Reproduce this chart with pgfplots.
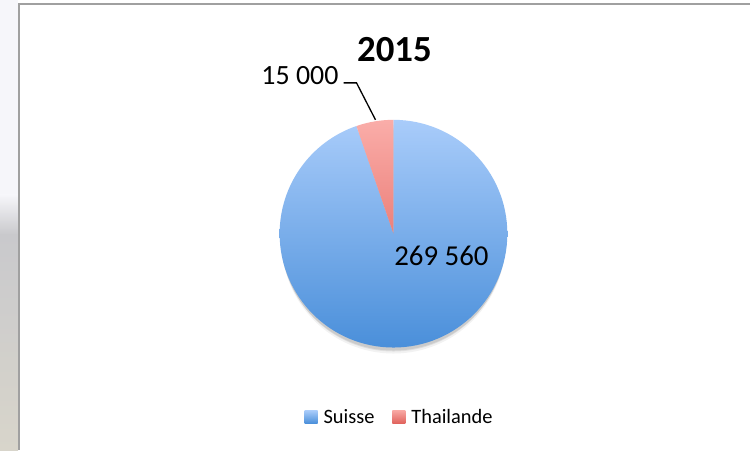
\documentclass[border=0pt]{standalone}
\usepackage{pgfplots}
\pgfplotsset{compat=1.18}
\usepackage{pgfplotstable}
\usepackage{fontspec}
\setmainfont{Carlito}
\definecolor{blueTop}{HTML}{A9CCFA}
\definecolor{blueBot}{HTML}{4A8FDA}
\definecolor{redTop}{HTML}{FAADA9}
\definecolor{redBot}{HTML}{EC807A}
\definecolor{legRedTop}{HTML}{F8A8A3}
\definecolor{legRedBot}{HTML}{E0625C}
\definecolor{frameGray}{HTML}{A0A0A0}
\definecolor{stripTop}{HTML}{F6F6FA}
\definecolor{stripMid}{HTML}{C9C9CC}
\definecolor{stripBot}{HTML}{D8D5CB}

\pgfplotstableread{
country value
Suisse 269560
Thailande 15000
}\piedata

\begin{document}
\begin{tikzpicture}
\pgfplotstablegetelem{0}{value}\of\piedata \let\vA\pgfplotsretval
\pgfplotstablegetelem{1}{value}\of\piedata \let\vB\pgfplotsretval
\begingroup
\pgfkeys{/pgf/fpu=true,/pgf/fpu/output format=fixed}
\pgfmathsetmacro\tmp{90-360*\vA/(\vA+\vB)}
\global\let\endA\tmp
\endgroup
\begin{axis}[
  x=1bp, y=1bp, xmin=0, xmax=751, ymin=0, ymax=451,
  hide axis, clip=false, scale only axis,
  legend columns=2,
  legend style={at={(axis cs:305,33.5)}, anchor=west, draw=none, fill=none,
    inner sep=0pt, outer sep=0pt, font=\fontsize{20.5}{24}\selectfont,
    /tikz/every odd column/.append style={column sep=4bp},
    /tikz/every even column/.append style={column sep=16bp}},
  legend image code/.code={\path[#1] (0bp,-6.5bp) rectangle (13bp,6.5bp);},
]
% background
\fill[white] (axis cs:0,0) rectangle (axis cs:751,451);
\fill[stripTop] (axis cs:0,256) rectangle (axis cs:18,451);
\shade[top color=stripTop, bottom color=stripMid] (axis cs:0,216) rectangle (axis cs:18,256);
\shade[top color=stripMid, bottom color=stripBot] (axis cs:0,0) rectangle (axis cs:18,216);
\draw[frameGray, line width=2bp] (axis cs:19,0) -- (axis cs:19,446.5) -- (axis cs:751,446.5);
% shadow
\fill[black, opacity=0.05] (axis cs:394,209) circle[radius=112bp];
\fill[black, opacity=0.07] (axis cs:394,211) circle[radius=112bp];
\fill[black, opacity=0.09] (axis cs:394,213) circle[radius=113bp];
% slices
\path[top color=blueTop, bottom color=blueBot]
  (axis cs:394,217) -- +(90:114bp) arc[start angle=90, end angle=\endA, radius=114bp] -- cycle;
\path[top color=redTop, bottom color=redBot]
  (axis cs:394,217) -- +(\endA:114bp) arc[start angle=\endA, end angle=-270, radius=114bp] -- cycle;
% leader line and labels
\draw[black, line width=1.3bp] (axis cs:344,368) -- (axis cs:357,368) -- (axis cs:376,331);
\node[anchor=base east, inner sep=0pt, font=\fontsize{28}{30}\selectfont] at (axis cs:339,366) {15 000};
\node[anchor=base, inner sep=0pt, font=\fontsize{29}{31}\selectfont] at (axis cs:442,185) {269 560};
\node[anchor=base, inner sep=0pt, font=\bfseries\fontsize{37}{40}\selectfont] at (axis cs:395,389) {2015};
% legend
\addlegendimage{top color=blueTop, bottom color=blueBot, draw=none}
\addlegendentry{Suisse}
\addlegendimage{top color=legRedTop, bottom color=legRedBot, draw=none}
\addlegendentry{Thailande}
\end{axis}
\end{tikzpicture}
\end{document}
